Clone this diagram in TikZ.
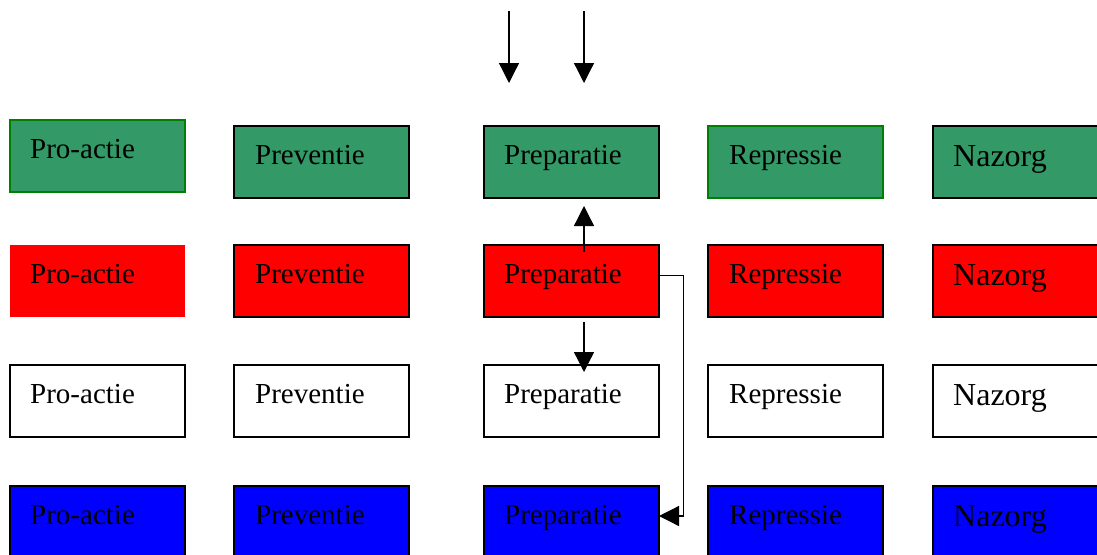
\documentclass[tikz,border=0pt]{standalone}
\usepackage{fontspec}
\setmainfont{Liberation Serif}
\usetikzlibrary{arrows.meta,calc}
\definecolor{sgreen}{RGB}{51,153,102}
\definecolor{dgreen}{RGB}{0,128,0}
\definecolor{bblue}{RGB}{0,0,255}
\definecolor{rred}{RGB}{255,0,0}
\begin{document}
\begin{tikzpicture}[x=1pt,y=-1pt,
  box/.style={draw=black,line width=1.5pt,inner sep=0pt,outer sep=0pt,anchor=north west,minimum width=175pt,minimum height=72pt},
  lastbox/.style={box,minimum width=185pt},
  gbox/.style={box,fill=sgreen},
  rbox/.style={box,fill=rred},
  wbox/.style={box,fill=white},
  bbox/.style={box,fill=bblue},
  lbl/.style={anchor=base west,inner sep=0pt,font=\fontsize{29}{32}\selectfont},
  lblbig/.style={anchor=base west,inner sep=0pt,font=\fontsize{32}{34}\selectfont},
  arr/.style={line width=1.3pt,-{Triangle[length=20pt,width=20pt]}},
  elbow/.style={line width=1.3pt,-{Triangle[length=20pt,width=20pt]}}
]
\useasboundingbox (0,0) rectangle (1097,554);
\clip (0,0) rectangle (1097,554);
% row 1 (green)
\node[gbox,draw=dgreen,minimum height=72pt] (g1) at (10,120) {};
\node[gbox] (g2) at (234,126) {};
\node[gbox] (g3) at (484,126) {};
\node[gbox,draw=dgreen] (g4) at (708,126) {};
\node[gbox,lastbox] (g5) at (933,126) {};
% row 2 (red)
\node[rbox,draw=none] (r1) at (10,245) {};
\node[rbox] (r2) at (234,245) {};
\node[rbox] (r3) at (484,245) {};
\node[rbox] (r4) at (708,245) {};
\node[rbox,lastbox] (r5) at (933,245) {};
% row 3 (white)
\node[wbox] (w1) at (10,365) {};
\node[wbox] (w2) at (234,365) {};
\node[wbox] (w3) at (484,365) {};
\node[wbox] (w4) at (708,365) {};
\node[wbox,lastbox] (w5) at (933,365) {};
% row 4 (blue)
\node[bbox] (b1) at (10,486) {};
\node[bbox] (b2) at (234,486) {};
\node[bbox] (b3) at (484,486) {};
\node[bbox] (b4) at (708,486) {};
\node[bbox,lastbox] (b5) at (933,486) {};
% labels
\foreach \r in {g,r,w,b}{
  \node[lbl] (\r t1) at ($(\r1.north west)+(20,38)$) {Pro-actie};
  \node[lbl] (\r t2) at ($(\r2.north west)+(21,38)$) {Preventie};
  \node[lbl] (\r t3) at ($(\r3.north west)+(20,38)$) {Preparatie};
  \node[lbl] (\r t4) at ($(\r4.north west)+(21,38)$) {Repressie};
  \node[lblbig] (\r t5) at ($(\r5.north west)+(20,40)$) {Nazorg};
}
% top arrows
\coordinate (s1) at (509,11);
\coordinate (e1) at (509,83);
\coordinate (s2) at (584,11);
\coordinate (e2) at (584,83);
\draw[arr] (s1) -- (e1);
\draw[arr] (s2) -- (e2);
% up and down arrows
\draw[arr] ($(r3.north)+(12.5,7)$) -- ($(g3.south)+(12.5,8)$);
\draw[arr] ($(r3.south)+(12.5,5)$) -- ($(w3.north)+(12.5,7)$);
% elbow connector
\draw[elbow] ($(r3.east)+(0,-5.5)$) -- ++(24.5,0) |- ($(b3.east)+(0,-6)$);
\end{tikzpicture}
\end{document}
